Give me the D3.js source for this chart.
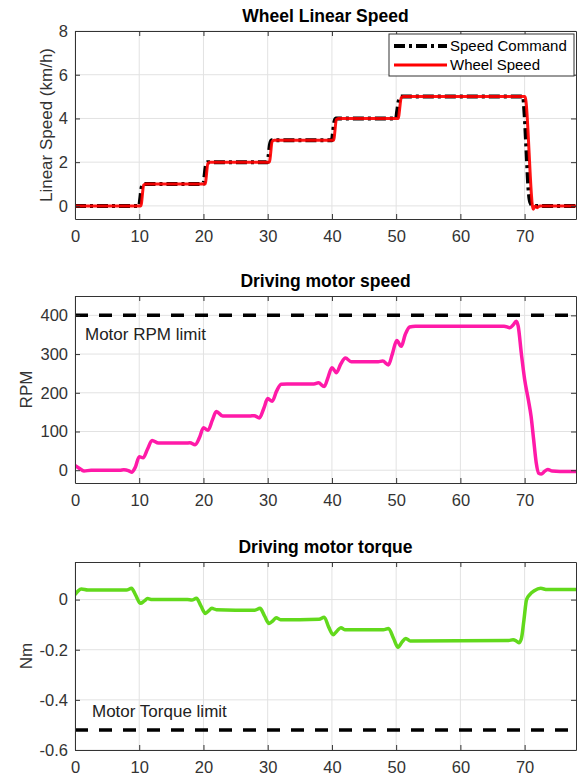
<!DOCTYPE html>
<html>
<head>
<meta charset="utf-8">
<script src="https://cdn.jsdelivr.net/npm/d3@7"></script>
<style>
  body { margin: 0; background: #fff; }
  text { font-family: "Liberation Sans", Arial, sans-serif; }
</style>
</head>
<body>
<script>
const W = 578, H = 776;

// shared x ticks (time, s)
const xTicks = [0, 10, 20, 30, 40, 50, 60, 70];

// panel 1 - wheel linear speed (km/h)
const cmdT = [0, 10, 10.15, 10.35, 10.6, 20, 20.15, 20.35, 20.6, 30, 30.15, 30.35, 30.6, 40, 40.15, 40.35, 40.6, 50, 50.15, 50.4, 50.7, 69.75, 70.0, 70.3, 70.6, 70.9, 71.3, 78];
const cmdV = [0, 0, 0.3, 0.8, 1, 1, 1.3, 1.8, 2, 2, 2.3, 2.8, 3, 3, 3.3, 3.8, 4, 4, 4.3, 4.8, 5, 5, 4.2, 2.5, 0.8, 0.15, 0, 0];
const wheelT = [0, 10.25, 10.7, 11, 20.25, 20.7, 21, 30.25, 30.7, 31, 40.25, 40.7, 41, 50.3, 50.8, 51.1, 70.05, 71.35, 71.65, 71.95, 72.4, 78];
const wheelV = [0, 0, 0.95, 1, 1, 1.95, 2, 2, 2.95, 3, 3, 3.95, 4, 4, 4.95, 5, 5, -0.15, 0, -0.08, 0, 0];
const speedTicks = [0, 2, 4, 6, 8];

// panel 2 - driving motor speed (RPM)
const rpmT = [0, 0.6, 1.4, 2.5, 7.0, 7.6, 8.3, 8.8, 9.4, 10.0, 10.6, 11.3, 12.0, 13.0, 17.2, 17.9, 18.7, 19.4, 20.0, 20.7, 21.4, 22.0, 23.0, 27.2, 27.9, 28.7, 29.4, 30.0, 30.7, 31.4, 32.1, 33.0, 37.2, 37.9, 38.8, 39.4, 40.0, 40.7, 41.4, 42.1, 43.0, 47.2, 47.9, 48.8, 49.4, 50.1, 50.8, 51.4, 52.1, 53.0, 66.8, 67.7, 68.2, 68.7, 69.0, 69.5, 70.0, 70.6, 71.0, 71.4, 71.8, 72.2, 72.6, 73.1, 73.6, 74.3, 75.5, 78];
const rpmV = [12, 6, -2, 0, 0, 1, -1, -5, 8, 35, 32, 55, 77, 70, 70, 71, 66, 85, 110, 103, 130, 152, 140, 140, 141, 135, 160, 185, 178, 205, 222, 223, 223, 226, 216, 240, 265, 252, 275, 290, 280, 280, 282, 272, 300, 335, 320, 350, 370, 372, 372, 368, 375, 385, 372, 300, 235, 180, 140, 80, 20, -8, -10, -3, 2, -2, -3, -3];
const rpmTicks = [0, 100, 200, 300, 400];
const rpmLimit = 400;

// panel 3 - driving motor torque (Nm)
const tqT = [0, 0.5, 1.0, 2.0, 8.0, 8.8, 9.4, 10.2, 10.8, 11.3, 12.0, 17.5, 18.2, 18.9, 19.6, 20.3, 20.8, 21.3, 22.0, 28.0, 28.8, 29.5, 30.2, 30.8, 31.3, 32.0, 38.0, 38.8, 39.5, 40.2, 40.8, 41.4, 42.0, 48.0, 48.8, 49.6, 50.3, 50.9, 51.5, 52.2, 67.5, 68.2, 68.7, 69.1, 69.5, 69.9, 70.3, 70.8, 71.5, 72.5, 73.5, 78];
const tqV = [0.02, 0.035, 0.042, 0.038, 0.038, 0.045, 0.02, -0.015, -0.005, 0.004, 0, 0, -0.002, 0.005, -0.025, -0.055, -0.045, -0.035, -0.04, -0.042, -0.035, -0.065, -0.095, -0.085, -0.072, -0.08, -0.078, -0.07, -0.11, -0.14, -0.125, -0.112, -0.12, -0.12, -0.115, -0.155, -0.19, -0.17, -0.155, -0.165, -0.163, -0.16, -0.165, -0.172, -0.155, -0.08, 0.0, 0.02, 0.035, 0.045, 0.04, 0.04];
const tqTicks = [-0.6, -0.4, -0.2, 0];
const tqTickLabels = ["-0.6", "-0.4", "-0.2", "0"];
const tqLimit = -0.52;

const axisColor = "#333";
const gridColor = "#e2e2e2";

var svg = d3.select("body").append("svg")
    .attr("width", W)
    .attr("height", H);

let x = d3.scaleLinear().domain([0, 78]).range([75, 576]);

function panel(id, top, bottom, yDomain, yTicks, yFmt, title, ylab, ylabX) {
    let y = d3.scaleLinear().domain(yDomain).range([bottom, top]);
    let g = svg.append("g").attr("class", "panel-" + id);

    // grid
    g.selectAll(".gx").data(xTicks).enter().append("line")
        .attr("x1", d => x(d)).attr("x2", d => x(d))
        .attr("y1", top).attr("y2", bottom)
        .attr("stroke", gridColor);
    g.selectAll(".gy").data(yTicks).enter().append("line")
        .attr("x1", x.range()[0]).attr("x2", x.range()[1])
        .attr("y1", d => y(d)).attr("y2", d => y(d))
        .attr("stroke", gridColor);

    svg.append("clipPath").attr("id", "clip" + id)
        .append("rect")
        .attr("x", x.range()[0]).attr("y", top)
        .attr("width", x.range()[1] - x.range()[0])
        .attr("height", bottom - top);

    let plot = g.append("g").attr("clip-path", "url(#clip" + id + ")");

    // axes, ticks inward like matlab
    let ax = g.append("g");
    ax.append("g").attr("transform", "translate(0," + bottom + ")")
        .call(d3.axisBottom(x).tickValues(xTicks).tickSizeInner(-5).tickSizeOuter(0).tickPadding(11).tickFormat(d3.format("d")));
    ax.append("g").attr("transform", "translate(0," + top + ")")
        .call(d3.axisTop(x).tickValues(xTicks).tickSizeInner(-5).tickSizeOuter(0).tickFormat(""));
    ax.append("g").attr("transform", "translate(" + x.range()[0] + ",0)")
        .call(d3.axisLeft(y).tickValues(yTicks).tickSizeInner(-5).tickSizeOuter(0).tickPadding(7).tickFormat(yFmt));
    ax.append("g").attr("transform", "translate(" + x.range()[1] + ",0)")
        .call(d3.axisRight(y).tickValues(yTicks).tickSizeInner(-5).tickSizeOuter(0).tickFormat(""));
    ax.selectAll(".domain").attr("stroke", axisColor);
    ax.selectAll(".tick line").attr("stroke", axisColor);
    ax.selectAll(".tick text")
        .attr("fill", axisColor)
        .attr("font-size", "16.5px")
        .style("font-family", "'Liberation Sans', Arial, sans-serif");

    // title
    g.append("text")
        .attr("x", (x.range()[0] + x.range()[1]) / 2)
        .attr("y", top - 9)
        .attr("text-anchor", "middle")
        .attr("font-size", "17.5px")
        .attr("font-weight", "bold")
        .attr("fill", "#000")
        .text(title);

    // y label
    g.append("text")
        .attr("transform", "translate(" + ylabX + "," + ((top + bottom) / 2) + ") rotate(-90)")
        .attr("text-anchor", "middle")
        .attr("dy", "0.35em")
        .attr("font-size", "17px")
        .attr("fill", axisColor)
        .text(ylab);

    return {plot: plot, y: y, g: g};
}

function series(T, V) {
    return T.map((t, i) => [t, V[i]]);
}

// ---- panel 1
let p1 = panel(1, 31, 219, [-0.6, 8], speedTicks, d3.format("d"), "Wheel Linear Speed", "Linear Speed (km/h)", 46);
let line1 = d3.line().x(d => x(d[0])).y(d => p1.y(d[1])).curve(d3.curveMonotoneX);

p1.plot.append("path")
    .datum(series(cmdT, cmdV))
    .attr("d", line1)
    .attr("fill", "none")
    .attr("stroke", "#000")
    .attr("stroke-width", 4)
    .attr("stroke-dasharray", "11,4,3,4");

p1.plot.append("path")
    .datum(series(wheelT, wheelV))
    .attr("d", line1)
    .attr("fill", "none")
    .attr("stroke", "#ff0000")
    .attr("stroke-width", 3)
    .attr("stroke-opacity", 0.92)
    .attr("stroke-linejoin", "round");

// legend
let leg = p1.g.append("g");
leg.append("rect")
    .attr("x", 389).attr("y", 34)
    .attr("width", 185).attr("height", 42)
    .attr("fill", "#fff")
    .attr("stroke", axisColor)
    .attr("stroke-width", 1);
let legItems = [
    {text: "Speed Command", color: "#000", dash: "11,4,3,4", w: 4},
    {text: "Wheel Speed", color: "#ff0000", dash: null, w: 3}
];
let li = leg.selectAll(".li").data(legItems).enter().append("g")
    .attr("transform", (d, i) => "translate(0," + (46 + i * 19) + ")");
li.append("line")
    .attr("x1", 394).attr("x2", 447)
    .attr("stroke", d => d.color)
    .attr("stroke-width", d => d.w)
    .attr("stroke-dasharray", d => d.dash);
li.append("text")
    .attr("x", 450)
    .attr("dy", "0.35em")
    .attr("font-size", "15px")
    .attr("fill", "#000")
    .text(d => d.text);

// ---- panel 2
let p2 = panel(2, 296, 483, [-33, 450], rpmTicks, d3.format("d"), "Driving motor speed", "RPM", 26);
let line2 = d3.line().x(d => x(d[0])).y(d => p2.y(d[1])).curve(d3.curveMonotoneX);

p2.plot.append("line")
    .attr("x1", x(0)).attr("x2", x(78))
    .attr("y1", p2.y(rpmLimit)).attr("y2", p2.y(rpmLimit))
    .attr("stroke", "#000")
    .attr("stroke-width", 3.5)
    .attr("stroke-dasharray", "13,11");

p2.plot.append("path")
    .datum(series(rpmT, rpmV))
    .attr("d", line2)
    .attr("fill", "none")
    .attr("stroke", "#ff1aa8")
    .attr("stroke-width", 3.5)
    .attr("stroke-linejoin", "round");

p2.g.append("text")
    .attr("x", 85)
    .attr("y", p2.y(352))
    .attr("dy", "0.35em")
    .attr("font-size", "17px")
    .attr("fill", "#222")
    .text("Motor RPM limit");

// ---- panel 3
let p3 = panel(3, 562, 750, [-0.6, 0.15], tqTicks, (d, i) => tqTickLabels[i], "Driving motor torque", "Nm", 26);
let line3 = d3.line().x(d => x(d[0])).y(d => p3.y(d[1])).curve(d3.curveMonotoneX);

p3.plot.append("line")
    .attr("x1", x(0)).attr("x2", x(78))
    .attr("y1", p3.y(tqLimit)).attr("y2", p3.y(tqLimit))
    .attr("stroke", "#000")
    .attr("stroke-width", 3.5)
    .attr("stroke-dasharray", "13,11");

p3.plot.append("path")
    .datum(series(tqT, tqV))
    .attr("d", line3)
    .attr("fill", "none")
    .attr("stroke", "#62d91c")
    .attr("stroke-width", 3.5)
    .attr("stroke-linejoin", "round");

p3.g.append("text")
    .attr("x", 92)
    .attr("y", p3.y(-0.443))
    .attr("dy", "0.35em")
    .attr("font-size", "17px")
    .attr("fill", "#222")
    .text("Motor Torque limit");
</script>
</body>
</html>
